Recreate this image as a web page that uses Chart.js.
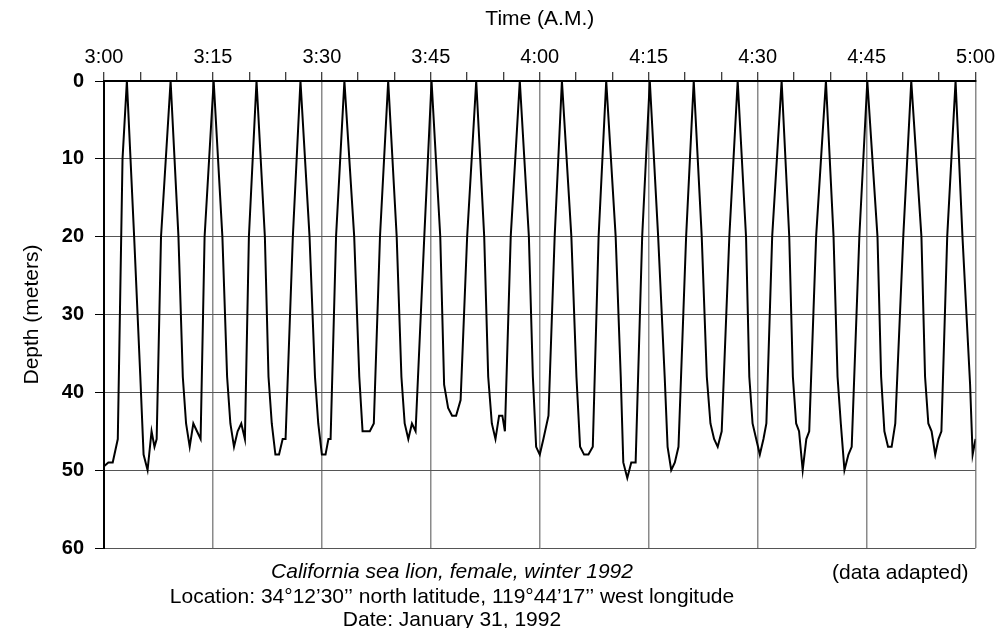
<!DOCTYPE html>
<html>
<head>
<meta charset="utf-8">
<script src="https://cdn.jsdelivr.net/npm/chart.js@4.4.1/dist/chart.umd.min.js"></script>
<style>
  body { margin: 0; background: #fff; }
  #wrap { width: 998px; height: 628px; position: relative; }
</style>
</head>
<body>
<div id="wrap"><canvas id="diveChart"></canvas></div>
<script>
// minutes after 3:00 A.M.
const minutes = [
  0, 0.6, 1.2, 1.9, 2.55, 3.15,
  4.15, 5.0, 5.45, 6.0, 6.55, 6.95, 7.25,
  7.85, 9.17, 10.25, 10.85, 11.3, 11.8, 12.3, 12.8,
  13.3, 13.85, 15.1, 16.3, 16.95, 17.4, 17.9, 18.4, 18.9,
  19.4, 19.95, 21.0, 22.15, 22.65, 23.1, 23.6, 24.1, 24.6,
  25.0, 26.0, 27.05, 28.3, 29.05, 29.5, 30.0, 30.5, 30.9,
  31.2, 31.95, 33.1, 34.45, 35.15, 35.6, 36.1, 36.6, 37.15,
  38.0, 39.13, 40.3, 40.95, 41.4, 41.9, 42.4, 42.9,
  44.1, 45.1, 46.3, 46.83, 47.38, 47.93, 48.48, 49.1,
  50.0, 51.25, 52.35, 52.9, 53.4, 53.9, 54.4, 54.85,
  55.2, 56.0, 57.25, 58.5, 59.05, 59.5, 60.0, 60.5, 61.2,
  62.05, 63.05, 64.35, 65.05, 65.55, 66.1, 66.7, 67.3,
  68.1, 69.15, 70.45, 71.15, 71.5, 72.05, 72.6, 73.2,
  74.1, 75.15, 76.3, 77.2, 77.6, 78.1, 78.6, 79.1,
  80.15, 81.2, 82.3, 83.0, 83.5, 84.0, 84.5, 85.05,
  86.1, 87.25, 88.4, 88.85, 89.3, 89.8, 90.3, 90.8, 91.2,
  92.0, 93.3, 94.35, 94.85, 95.3, 95.7, 96.2, 96.7, 97.1,
  98.05, 99.4, 100.45, 101.0, 101.45, 101.95, 102.5, 102.95,
  104.0, 105.1, 106.5, 107.0, 107.45, 107.95, 108.45, 108.95,
  110.05, 111.15, 112.55, 113.05, 113.5, 113.95, 114.45, 114.9, 115.3,
  116.1, 117.25, 118.2, 119.25, 119.6, 120
];
// depth in meters
const depth = [
  49.5, 49, 49, 46, 10, 0,
  20, 38, 48, 50, 45, 47, 46,
  20, 0, 20, 38, 44, 47, 44, 45,
  46, 20, 0, 20, 38, 44, 47, 45, 44,
  46, 20, 0, 20, 38, 44, 48, 48, 46,
  46, 20, 0, 20, 38, 44, 48, 48, 46,
  46, 20, 0, 20, 38, 45, 45, 45, 44,
  20, 0, 20, 38, 44, 46, 44, 45,
  20, 0, 20, 39, 42, 43, 43, 41,
  20, 0, 20, 38, 44, 46, 43, 43,
  45, 20, 0, 20, 38, 47, 48, 46, 43,
  20, 0, 20, 38, 47, 48, 48, 47,
  20, 0, 20, 38, 49, 51, 49, 49,
  20, 0, 20, 38, 47, 50, 49, 47,
  20, 0, 20, 38, 44, 46, 47, 45,
  20, 0, 20, 38, 44, 46, 48, 46, 44,
  20, 0, 20, 38, 44, 45, 50, 46, 45,
  20, 0, 20, 38, 44, 50, 48, 47,
  20, 0, 20, 38, 45, 47, 47, 44,
  20, 0, 20, 38, 44, 45, 48, 46, 45,
  20, 0, 20, 39, 48, 46
];
const timeLabels = ['3:00', '3:15', '3:30', '3:45', '4:00', '4:15', '4:30', '4:45', '5:00'];
const captionLines = [
  'California sea lion, female, winter 1992',
  'Location: 34\u00b012\u201930\u2019\u2019 north latitude, 119\u00b044\u201917\u2019\u2019 west longitude',
  'Date: January 31, 1992'
];
const noteText = '(data adapted)';

const FONT = '"Liberation Sans", Arial, sans-serif';

const points = minutes.map((m, i) => ({ x: m, y: depth[i] }));

const captionPlugin = {
  id: 'caption',
  afterDraw(chart) {
    const ctx = chart.ctx;
    ctx.save();
    ctx.fillStyle = '#000';
    ctx.textBaseline = 'middle';
    ctx.textAlign = 'center';
    ctx.font = 'italic 21px ' + FONT;
    ctx.fillText(captionLines[0], 452, 572);
    ctx.font = '21px ' + FONT;
    ctx.fillText(captionLines[1], 452, 597);
    ctx.fillText(captionLines[2], 452, 620);
    ctx.textAlign = 'left';
    ctx.fillText(noteText, 832, 573);
    ctx.restore();
  }
};

new Chart(document.getElementById('diveChart'), {
  type: 'line',
  data: {
    datasets: [{
      data: points,
      borderColor: '#000',
      borderWidth: 2,
      pointRadius: 0,
      tension: 0,
      fill: false
    }]
  },
  options: {
    responsive: true,
    maintainAspectRatio: false,
    animation: false,
    layout: { padding: { left: 0, top: 0, right: 20, bottom: 80 }, autoPadding: false },
    plugins: { legend: { display: false }, tooltip: { enabled: false } },
    scales: {
      x: {
        type: 'linear',
        position: 'top',
        min: 0,
        max: 120,
        afterFit: (scale) => { scale.height = 81; },
        ticks: {
          stepSize: 5,
          autoSkip: false,
          maxRotation: 0,
          padding: 3,
          color: '#000',
          font: { family: FONT, size: 20 },
          callback: (v) => (v % 15 === 0 ? timeLabels[v / 15] : '')
        },
        grid: {
          color: (c) => (c.tick && c.tick.value % 15 === 0 ? '#8a8a8a' : 'rgba(0,0,0,0)'),
          lineWidth: 1.5,
          tickColor: '#000',
          tickLength: 9,
          tickWidth: 1
        },
        border: { color: '#000', width: 2 },
        title: {
          display: true,
          text: 'Time (A.M.)',
          color: '#000',
          font: { family: FONT, size: 21 },
          padding: { top: 7, bottom: 0 }
        }
      },
      y: {
        reverse: true,
        min: 0,
        max: 60,
        afterFit: (scale) => { scale.width = 104; },
        ticks: {
          stepSize: 10,
          padding: 11,
          color: '#000',
          font: { family: FONT, size: 20, weight: 'bold' }
        },
        grid: {
          color: '#555',
          lineWidth: 1,
          tickColor: '#000',
          tickLength: 9
        },
        border: { color: '#000', width: 2 },
        title: {
          display: true,
          text: 'Depth (meters)',
          color: '#000',
          font: { family: FONT, size: 21 },
          padding: { top: 20, bottom: 0 }
        }
      }
    }
  },
  plugins: [captionPlugin]
});
</script>
</body>
</html>
